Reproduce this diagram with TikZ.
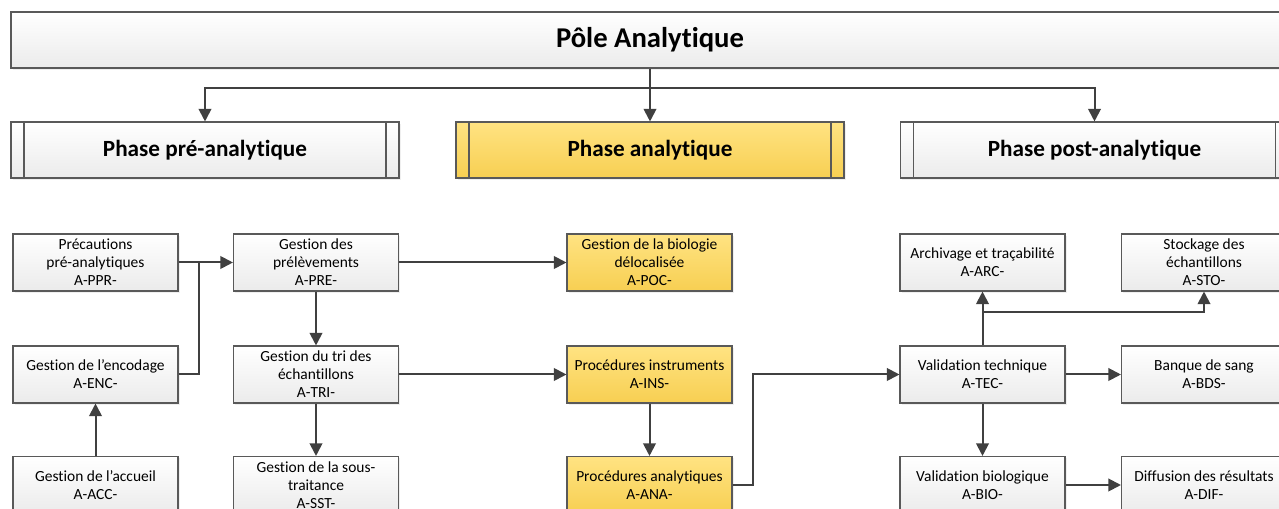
\documentclass[tikz,border=0pt]{standalone}
\usepackage{fontspec}
\setmainfont{Carlito}[Ligatures=NoCommon]
\usetikzlibrary{positioning,arrows.meta,shadows}
\definecolor{edge}{HTML}{404040}
\definecolor{rim}{HTML}{595959}
\definecolor{greyB}{HTML}{EBEBEB}
\definecolor{yelT}{HTML}{FFE382}
\definecolor{yelB}{HTML}{F7CF52}

\begin{document}
\begin{tikzpicture}[x=0.75pt, y=-0.75pt, every node/.style={font=\fontsize{11.6}{13.5}\selectfont, align=center},
	box/.style={draw=rim, line width=0.8pt, top color=white, bottom color=greyB, minimum width=123.75pt, minimum height=42.75pt, inner sep=1pt, drop shadow={shadow xshift=1.2pt, shadow yshift=-1.5pt, fill=black!12}},
	ybox/.style={box, top color=yelT, bottom color=yelB},
	phase/.style={box, minimum width=291pt, minimum height=42pt, font=\fontsize{17.4}{20}\selectfont\bfseries,
		path picture={\draw[rim, line width=0.8pt] ([xshift=9.75pt]path picture bounding box.north west) -- ([xshift=9.75pt]path picture bounding box.south west) ([xshift=-9.75pt]path picture bounding box.north east) -- ([xshift=-9.75pt]path picture bounding box.south east);}},
	ln/.style={draw=edge, line width=1.5pt},
	arr/.style={ln, -{Triangle[length=9.5pt, width=9.5pt]}}]
	\clip (0,0) rectangle (1279,509);
	\node[box, minimum width=958.5pt, minimum height=42pt, font=\fontsize{21.5}{25}\selectfont\bfseries] (pole) at (650,40) {Pôle Analytique};
	\node[phase] (pre) at (205,150) {Phase pré-analytique};
	\node[phase, top color=yelT, bottom color=yelB] (ana) at (650,150) {Phase analytique};
	\node[phase] (post) at (1094.5,150) {Phase post-analytique};
	% pré-analytique
	\node[box] (PPR) at (95.5,262.5) {Précautions\\pré-analytiques\\A-PPR-};
	\node[box] (ENC) at (95.5,374.5) {Gestion de l’encodage\\A-ENC-};
	\node[box] (ACC) at (95.5,485) {Gestion de l’accueil\\A-ACC-};
	\node[box] (PRE) at (316,262.5) {Gestion des\\prélèvements\\A-PRE-};
	\node[box] (TRI) at (316,374.5) {Gestion du tri des\\échantillons\\A-TRI-};
	\node[box] (SST) at (316,485) {Gestion de la sous-\\traitance\\A-SST-};
	% analytique
	\node[ybox] (POC) at (649.5,262.5) {Gestion de la biologie\\délocalisée\\A-POC-};
	\node[ybox] (INS) at (649.5,374.5) {Procédures instruments\\A-INS-};
	\node[ybox] (ANA) at (649.5,485) {Procédures analytiques\\A-ANA-};
	% post-analytique
	\node[box] (ARC) at (982.5,262.5) {Archivage et traçabilité\\A-ARC-};
	\node[box] (TEC) at (982.5,374.5) {Validation technique\\A-TEC-};
	\node[box] (BIO) at (982.5,485) {Validation biologique\\A-BIO-};
	\node[box] (STO) at (1204,262.5) {Stockage des\\échantillons\\A-STO-};
	\node[box] (BDS) at (1204,374.5) {Banque de sang\\A-BDS-};
	\node[box] (DIF) at (1204,485) {Diffusion des résultats\\A-DIF-};
	\coordinate (fork) at (650,88);
	\coordinate (join) at (199,262.5);
	\coordinate (anaTec) at (753,485);
	\coordinate (split) at (982.5,312);
	\draw[arr] (pole) -- (ana);
	\draw[arr] (fork) -| (pre);
	\draw[arr] (fork) -| (post);
	\foreach \a/\b in {PPR/PRE, ACC/ENC, PRE/TRI, TRI/SST, PRE/POC, TRI/INS, INS/ANA, TEC/ARC, TEC/BDS, TEC/BIO, BIO/DIF} {\draw[arr] (\a) -- (\b);}
	\draw[ln] (ENC) -| (join);
	\draw[arr] (ANA) -- (anaTec) |- (TEC);
	\draw[arr] (split) -| (STO);
\end{tikzpicture}
\end{document}
